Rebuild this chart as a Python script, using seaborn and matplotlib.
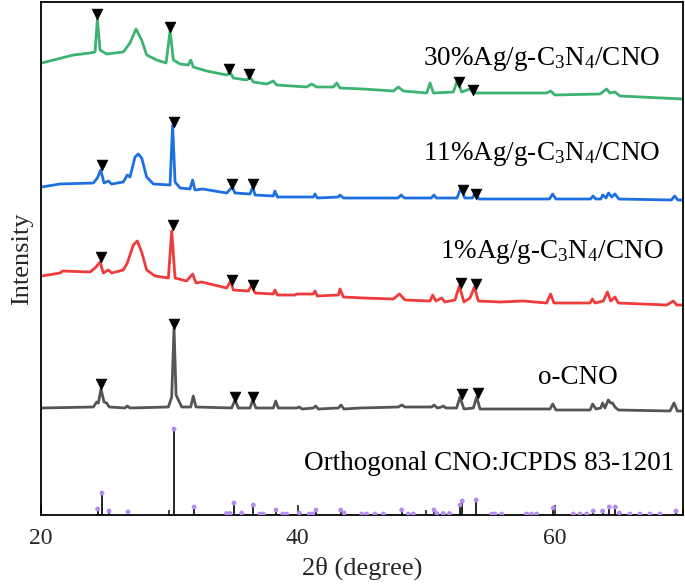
import matplotlib
matplotlib.use("Agg")
import matplotlib.pyplot as plt
import seaborn as sns
import pandas as pd
from matplotlib.ticker import MultipleLocator

sns.set_style("ticks")
plt.rcParams['font.family'] = ['Liberation Serif', 'DejaVu Serif']
plt.rcParams['mathtext.fontset'] = 'custom'
plt.rcParams['mathtext.rm'] = 'Liberation Serif'
plt.rcParams['mathtext.it'] = 'Liberation Serif:italic'

# ---------------- data (2theta in degree, intensity in arbitrary units) ----------------
green_x = [20.05, 22.52, 23.82, 24.21, 24.39, 24.60, 25.11, 26.41, 26.93, 27.40, 27.84, 28.23, 29.01, 29.74,
           30.05, 30.31, 30.83, 31.47, 31.66, 31.86, 32.90, 34.46, 34.72, 34.98, 36.02, 36.28, 36.54, 37.58,
           38.09, 38.35, 40.69, 41.08, 41.47, 42.77, 43.03, 43.29, 45.10, 47.44, 47.83, 48.22, 50.04, 50.30,
           50.56, 52.11, 52.42, 52.76, 53.41, 53.80, 55.23, 59.38, 59.69, 60.03, 63.54, 64.05, 64.31, 64.70,
           65.09, 70.00]
green_y = [452, 460, 462, 463, 496, 465, 461, 463, 472, 486, 475, 460, 455, 452,
           484, 455, 451, 450, 455, 448, 444, 440, 443, 437, 435, 438, 433, 431,
           434, 430, 428, 431, 428, 428, 432, 427, 426, 424, 428, 424, 422, 432,
           422, 423, 434, 423, 426, 422, 422, 422, 424, 420, 421, 426, 422, 423,
           419, 416]

blue_x = [20.05, 21.48, 24.08, 24.39, 24.65, 24.91, 25.24, 25.50, 26.41, 26.72, 26.93, 27.32, 27.58, 27.84,
          28.23, 28.75, 30.05, 30.25, 30.44, 30.83, 31.60, 31.81, 31.99, 32.59, 34.46, 34.90, 35.11, 36.28,
          36.49, 36.67, 38.09, 38.22, 38.41, 41.21, 41.34, 41.52, 43.16, 43.29, 43.55, 45.10, 47.80, 48.05,
          48.30, 50.40, 50.60, 50.80, 52.40, 52.70, 53.00, 53.60, 53.85, 54.10, 59.60, 59.85, 60.10, 62.80,
          63.00, 63.20, 63.60, 63.75, 64.00, 64.20, 64.45, 64.70, 65.00, 69.10, 69.35, 69.60, 70.00]
blue_y = [328, 331, 332, 337, 345, 332, 334, 331, 333, 340, 338, 358, 361, 357,
          338, 331, 330, 390, 333, 327, 326, 335, 325, 326, 322, 328, 322, 321,
          328, 320, 319, 324, 318, 318, 321, 317, 318, 320, 317, 317, 317, 320,
          317, 317, 320, 317, 317, 327, 317, 317, 323, 316, 316, 321, 316, 316,
          319, 316, 316, 320, 317, 322, 318, 321, 316, 315, 319, 315, 315]

red_x = [20.05, 21.48, 21.69, 23.82, 24.21, 24.60, 24.85, 25.24, 25.50, 26.41, 26.72, 27.19, 27.50, 27.84,
         28.23, 28.88, 29.92, 30.18, 30.44, 31.34, 31.81, 32.07, 32.51, 34.46, 34.77, 34.98, 36.15, 36.41,
         36.67, 38.09, 38.22, 38.41, 39.78, 39.91, 41.21, 41.34, 41.52, 43.16, 43.29, 43.55, 45.10, 47.44,
         47.91, 48.35, 50.30, 50.50, 50.76, 51.20, 51.46, 52.24, 52.58, 52.94, 53.41, 53.75, 54.06, 55.75,
         57.55, 59.38, 59.69, 59.95, 62.76, 62.94, 63.15, 63.80, 64.11, 64.37, 64.70, 64.96, 68.73, 69.25,
         69.51, 70.00]
red_y = [239, 242, 244, 243, 247, 253, 242, 245, 242, 245, 252, 270, 274, 263,
         245, 239, 237, 284, 237, 234, 241, 232, 233, 227, 234, 225, 224, 230,
         222, 221, 225, 220, 220, 221, 221, 224, 219, 220, 226, 218, 217, 216,
         221, 215, 214, 220, 214, 217, 213, 215, 229, 213, 217, 228, 214, 213,
         214, 212, 221, 212, 212, 216, 212, 214, 223, 214, 218, 212, 210, 214,
         210, 210]

gray_x = [20.05, 24.08, 24.34, 24.47, 24.67, 24.91, 25.11, 25.32, 26.54, 26.72, 26.93, 29.92, 30.18, 30.36,
          30.52, 30.70, 30.96, 31.66, 31.86, 32.07, 34.85, 35.11, 35.37, 36.28, 36.49, 36.74, 38.09, 38.28,
          38.48, 39.91, 40.12, 40.33, 41.21, 41.39, 41.60, 43.16, 43.36, 43.60, 44.84, 47.83, 48.09, 48.35,
          50.43, 50.61, 50.87, 51.20, 51.33, 51.54, 52.37, 52.63, 52.94, 53.67, 53.93, 54.19, 59.64, 59.85,
          60.11, 62.76, 62.96, 63.22, 63.59, 63.74, 63.92, 64.18, 64.37, 64.52, 64.70, 64.96, 68.99, 69.30,
          69.56, 70.00]
gray_y = [107, 108, 113, 112, 126, 113, 112, 108, 107, 109, 107, 108, 118, 187,
          120, 115, 108, 108, 119, 108, 107, 115, 107, 107, 115, 107, 107, 114,
          107, 107, 108, 106, 107, 109, 106, 107, 110, 106, 107, 108, 110, 108,
          108, 110, 107, 108, 109, 107, 107, 118, 106, 107, 118, 106, 106, 111,
          105, 105, 111, 106, 107, 112, 107, 115, 112, 112, 108, 105, 104, 112,
          104, 104]

green_mx = [24.36, 30.05, 34.64, 36.22, 52.55, 53.67]
green_my = [501, 488, 446, 441, 433, 425]
blue_mx = [24.73, 30.36, 34.88, 36.53, 52.89, 53.88]
blue_my = [350, 393, 331, 331, 325, 321]
red_mx = [24.65, 30.26, 34.90, 36.53, 52.71, 53.86]
red_my = [258, 290, 235, 230, 232, 231]
gray_mx = [24.67, 30.36, 35.11, 36.49, 52.81, 54.06]
gray_my = [131, 191, 118, 118, 121, 122]

ref_x = [24.41, 24.75, 25.30, 26.78, 30.36, 31.92, 34.46, 34.72, 35.03, 35.63, 36.54, 37.05, 37.31, 38.30,
         38.82, 39.13, 40.12, 40.90, 41.16, 41.42, 43.34, 43.60, 44.98, 45.36, 46.01, 46.66, 48.09, 48.61,
         49.00, 50.61, 50.82, 51.33, 51.80, 52.63, 52.81, 53.90, 55.10, 55.36, 55.88, 57.82, 58.21, 58.60,
         59.90, 61.46, 61.98, 62.50, 63.01, 63.74, 64.26, 64.73, 65.04, 65.87, 66.65, 67.43, 68.21, 69.45]
ref_h = [6, 22, 4, 3, 86, 8, 1.5, 1.5, 12, 2, 10, 1, 1, 5,
         1, 1, 2, 1, 1, 5, 5, 2, 1, 1, 1, 1, 5, 1,
         1, 5, 1.5, 1.5, 1.5, 10, 14, 15, 1, 1, 1, 1, 1, 1,
         7, 1, 1, 1, 4, 4, 8, 8, 2, 1, 1, 1, 1, 4]

labels = ["30%Ag/g-C$_3$N$_4$/CNO", "11%Ag/g-C$_3$N$_4$/CNO", "1%Ag/g-C$_3$N$_4$/CNO", "o-CNO",
          "Orthogonal CNO:JCPDS 83-1201"]
label_x = [49.75, 49.75, 51.07, 58.71, 40.48]
label_y = [456, 361, 263, 137, 52]

colors = {"green": "#3cb371", "blue": "#1e6fe0", "red": "#ee3b3b", "gray": "#555555"}

# ---------------- figure ----------------
fig = plt.figure(figsize=(6.85, 5.86), dpi=100)
ax = fig.add_axes([41 / 685, 71 / 586, 642 / 685, 513 / 586])

series = [(green_x, green_y, green_mx, green_my, "green"),
          (blue_x, blue_y, blue_mx, blue_my, "blue"),
          (red_x, red_y, red_mx, red_my, "red"),
          (gray_x, gray_y, gray_mx, gray_my, "gray")]
for xs, ys, mx, my, c in series:
    df = pd.DataFrame({"x": xs, "y": ys})
    sns.lineplot(data=df, x="x", y="y", ax=ax, color=colors[c], linewidth=2.0,
                 sort=False, estimator=None)
    mdf = pd.DataFrame({"x": mx, "y": my})
    sns.scatterplot(data=mdf, x="x", y="y", ax=ax, marker="v", color="black",
                    s=60, edgecolor="black", linewidth=0.5, zorder=5)

# reference stick pattern
ax.vlines(ref_x, 0, ref_h, color="black", linewidth=1.2, zorder=3)
rdf = pd.DataFrame({"x": ref_x, "y": ref_h})
sns.scatterplot(data=rdf, x="x", y="y", ax=ax, color="#b48cf0", s=12, edgecolor="none",
                zorder=4)

for t, lx, ly in zip(labels, label_x, label_y):
    ax.text(lx, ly, t, fontsize=19.5, ha="left", va="center", color="black")

ax.set_xlim(20, 70)
ax.set_ylim(0, 513)
ax.xaxis.set_major_locator(MultipleLocator(20))
ax.xaxis.set_minor_locator(MultipleLocator(10))
ax.tick_params(axis="x", which="major", direction="in", length=7, width=1.2,
               labelsize=17, pad=9, top=False)
ax.tick_params(axis="x", which="minor", direction="in", length=3.5, width=1.2, top=False)
ax.set_yticks([])
ax.set_xlabel("2θ (degree)", fontsize=19, labelpad=6)
ax.set_ylabel("Intensity", fontsize=19, labelpad=6)
for sp in ax.spines.values():
    sp.set_visible(True)
    sp.set_linewidth(1.3)
    sp.set_color("black")

fig.savefig("out.png", dpi=100)
